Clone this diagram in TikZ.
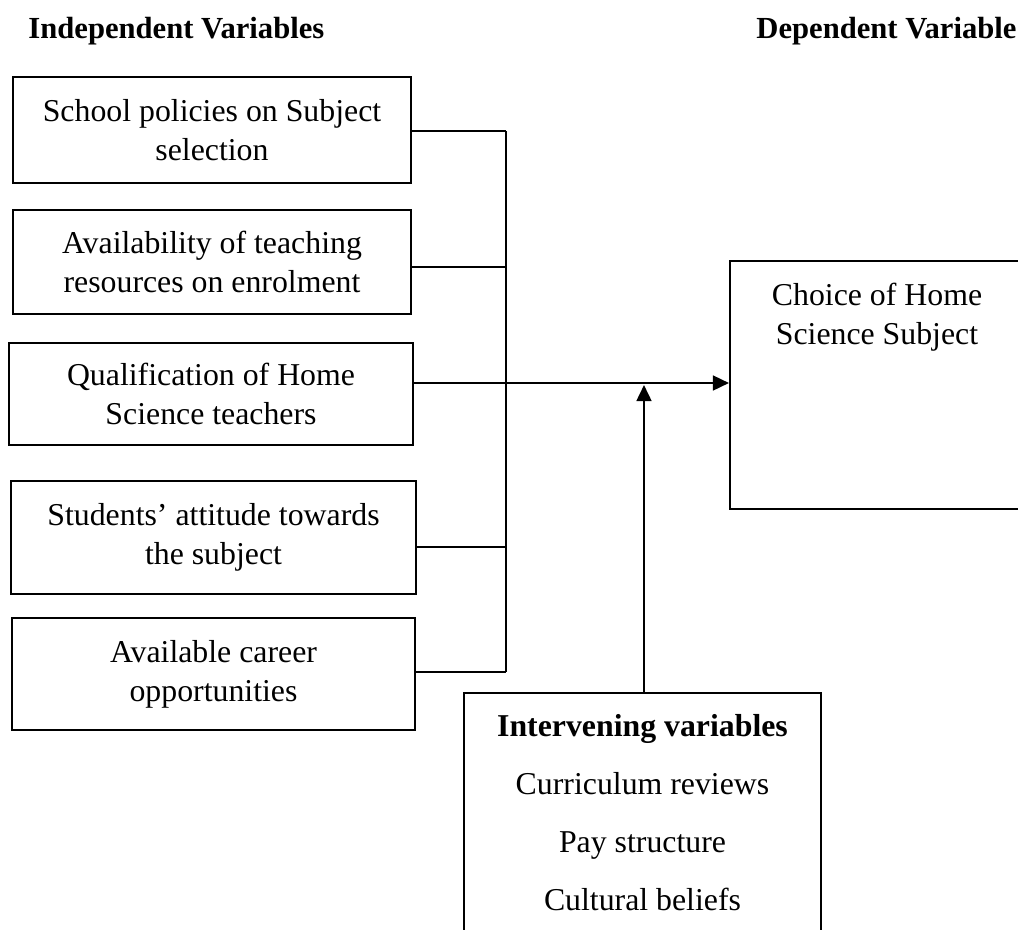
\documentclass[tikz,border=0pt]{standalone}
\usepackage{fontspec}
\setmainfont{Liberation Serif}
\usetikzlibrary{arrows.meta}

\begin{document}
\begin{tikzpicture}[x=0.4244pt,y=-0.4244pt,
    ivbox/.style={draw,line width=0.85pt,align=center,inner sep=0pt,
      font=\fontsize{13.5}{16.5}\selectfont},
    heading/.style={font=\fontsize{13}{15}\selectfont\bfseries,inner sep=0pt},
    link/.style={line width=0.85pt},
    arr/.style={line width=0.9pt,-{Triangle[length=6.8pt,width=6.3pt]}}]
    \useasboundingbox (0,0) rectangle (1018,929);
    \node[heading,anchor=base west] (indep) at (28,38) {Independent Variables};
    \node[heading,anchor=base east] (dep) at (1017,38) {Dependent Variable};
    % independent variables
    \node[ivbox,minimum width=168.9pt,minimum height=45pt] (b1) at (212,130) {School policies on Subject\\selection};
    \node[ivbox,minimum width=168.9pt,minimum height=44.1pt] (b2) at (212,262) {Availability of teaching\\resources on enrolment};
    \node[ivbox,minimum width=171.5pt,minimum height=43.3pt] (b3) at (211,394) {Qualification of Home\\Science teachers};
    \node[ivbox,minimum width=171.9pt,minimum height=48pt] (b4) at (213.5,537.5) {Students' attitude towards\\the subject};
    \node[ivbox,minimum width=171pt,minimum height=47.5pt] (b5) at (213.5,674) {Available career\\opportunities};
    % dependent variable
    \node[ivbox,minimum width=124.8pt,minimum height=105.3pt] (dv) at (877,385) {};
    \node[font=\fontsize{13.5}{16.5}\selectfont,align=center,inner sep=0pt,anchor=north] (dvtext) at (877,283) {Choice of Home\\Science Subject};
    % intervening variables
    \node[ivbox,minimum width=151.5pt,minimum height=107pt] (iv) at (642.5,819) {};
    \node[font=\fontsize{13.5}{24.6}\selectfont,align=center,inner sep=0pt,anchor=north] (ivtext) at (642.5,714)
        {\textbf{Intervening variables}\\Curriculum reviews\\Pay structure\\Cultural beliefs};
    % bus
    \coordinate (j1) at (506,131);
    \coordinate (j2) at (506,267);
    \coordinate (j3) at (506,383);
    \coordinate (j4) at (506,547);
    \coordinate (j5) at (506,672);
    \draw[link] (j1) -- (j5);
    \draw[link] (b1.east |- j1) -- (j1);
    \draw[link] (b2.east |- j2) -- (j2);
    \draw[link] (b4.east |- j4) -- (j4);
    \draw[link] (b5.east |- j5) -- (j5);
    \draw[arr] (b3.east |- j3) -- (dv.west |- j3);
    \draw[arr] (iv.north -| 644,0) -- (644,385);
\end{tikzpicture}
\end{document}
